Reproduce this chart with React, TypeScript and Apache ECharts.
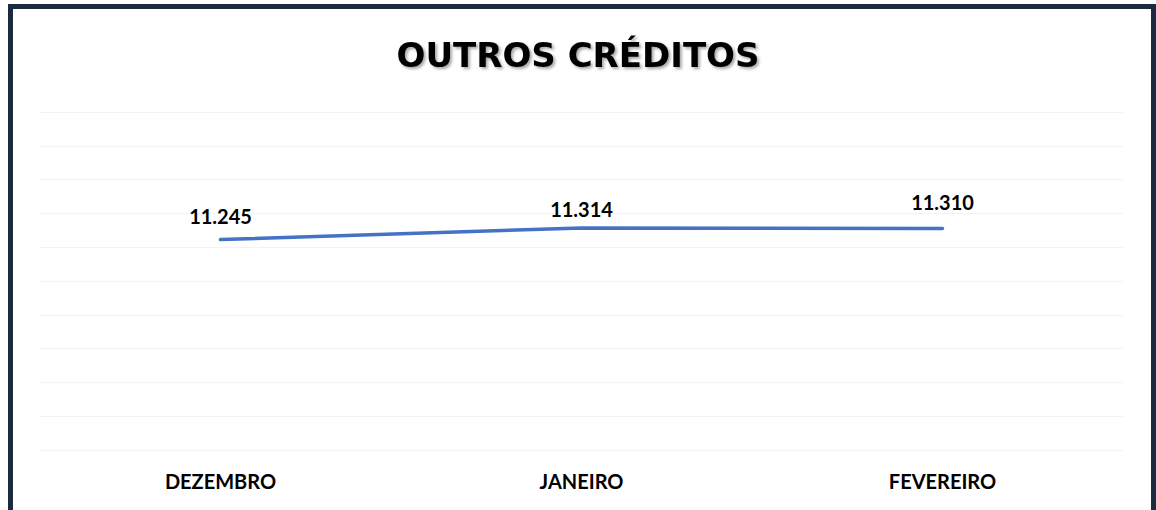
import React, { useEffect, useRef } from "react";
import * as echarts from "echarts";

const title = "OUTROS CRÉDITOS";
const categories = ["DEZEMBRO", "JANEIRO", "FEVEREIRO"];
const values = [11245, 11314, 11310];
const yMin = 10000;
const yMax = 12000;
const yInterval = 200;

const FONT = "Lato, 'Open Sans', sans-serif";
const TITLE_FONT = "'DejaVu Sans', 'Open Sans', sans-serif";
const LABEL_DISTANCE = [14, 9, 17];

function fmt(v: number): string {
  const s = String(Math.round(v));
  return s.replace(/\B(?=(\d{3})+(?!\d))/g, ".");
}

export default function App() {
  const ref = useRef<HTMLDivElement>(null);
  useEffect(() => {
    if (!ref.current) return;
    const chart = echarts.init(ref.current, null, { renderer: "svg" });
    chart.setOption({
      animation: false,
      backgroundColor: "#ffffff",
      title: {
        text: title,
        left: "center",
        top: 33,
        textStyle: {
          fontFamily: TITLE_FONT,
          fontWeight: "bold",
          fontSize: 34,
          color: "#000000",
          textShadowColor: "rgba(0,0,0,0.35)",
          textShadowBlur: 3,
          textShadowOffsetX: 2,
          textShadowOffsetY: 2,
        },
      },
      graphic: [
        {
          type: "rect",
          shape: { x: 10.5, y: 6.5, width: 1143, height: 600 },
          style: { fill: "none", stroke: "#1b2a3f", lineWidth: 5 },
          z: 100,
        },
      ],
      grid: { left: 40, right: 33, top: 112, bottom: 60 },
      xAxis: {
        type: "category",
        data: categories,
        axisLine: { show: false },
        axisTick: { show: false },
        axisLabel: {
          margin: 21,
          fontFamily: FONT,
          fontWeight: "bold",
          fontSize: 20,
          color: "#000000",
        },
        splitLine: { show: false },
      },
      yAxis: {
        type: "value",
        min: yMin,
        max: yMax,
        interval: yInterval,
        axisLabel: { show: false },
        axisLine: { show: false },
        axisTick: { show: false },
        splitLine: { lineStyle: { color: "#f3f3f3", width: 1 } },
      },
      series: [
        {
          type: "line",
          data: values.map((v, i) => ({
            value: v,
            label: { distance: LABEL_DISTANCE[i] },
          })),
          showSymbol: true,
          symbol: "circle",
          symbolSize: 0,
          lineStyle: { color: "#4472c4", width: 3.5, cap: "round" },
          itemStyle: { color: "#4472c4" },
          label: {
            show: true,
            position: "top",
            distance: 12,
            fontFamily: FONT,
            fontWeight: "bold",
            fontSize: 20,
            color: "#000000",
            formatter: (p: any) => fmt(p.value),
          },
        },
      ],
    });
    return () => chart.dispose();
  }, []);
  return (
    <div
      ref={ref}
      style={{ position: "fixed", left: 0, top: 0, width: 1156, height: 510 }}
    />
  );
}
